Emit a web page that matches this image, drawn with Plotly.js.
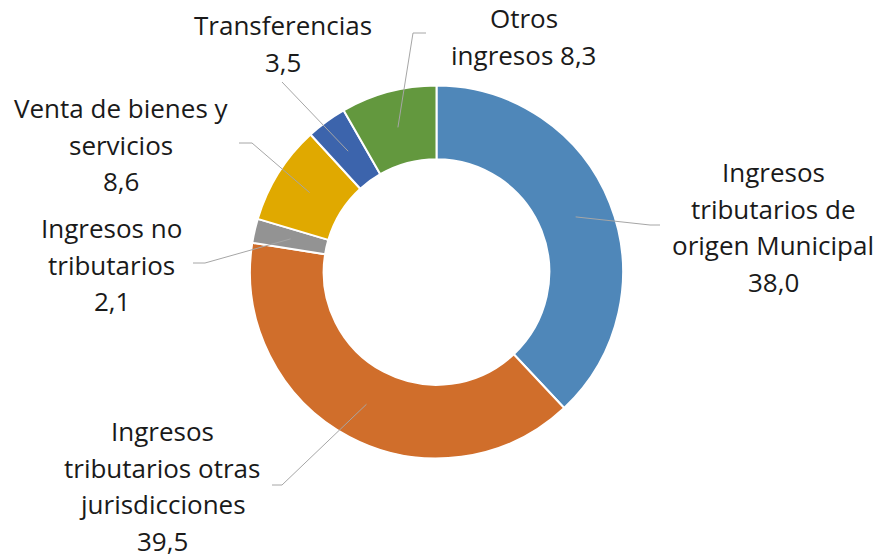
<!DOCTYPE html>
<html>
<head>
<meta charset="utf-8">
<script src="https://cdn.plot.ly/plotly-3.0.1.min.js"></script>
<style>html,body{margin:0;padding:0;background:#fff;}#chart{width:879px;height:558px;}</style>
</head>
<body>
<div id="chart"></div>
<script>
// ---- data ----
const categories = [
  "Ingresos tributarios de origen Municipal",
  "Ingresos tributarios otras jurisdicciones",
  "Ingresos no tributarios",
  "Venta de bienes y servicios",
  "Transferencias",
  "Otros ingresos"
];
const values = [38.0, 39.5, 2.1, 8.6, 3.5, 8.3];
const labelLines = [
  ["Ingresos", "tributarios de", "origen Municipal", "{v}"],
  ["Ingresos", "tributarios otras", "jurisdicciones", "{v}"],
  ["Ingresos no", "tributarios", "{v}"],
  ["Venta de bienes y", "servicios", "{v}"],
  ["Transferencias", "{v}"],
  ["Otros", "ingresos {v}"]
];
const colors = ["#4F87B9", "#D06E2B", "#939393", "#E0A900", "#3C64AC", "#63983E"];

// ---- layout (pixels) ----
const W = 879, H = 558;
const CX = 436.5, CY = 272, R = 186.5, HOLE = 0.605;
const FONT_SIZE = 26;
const labelCenter = [[773, 172], [162, 431], [112, 228], [121, 108], [283, 25], [524, 18]];
const lineGap = 36.6;
const leaderElbow = [[650, 225], [282, 485], [205, 263], [252, 143], [282, 82], [413, 33]];
const leaderEnd   = [[660, 225], [272, 485], [193, 263], [239, 143], null, [426, 33]];

const px = x => x / W, py = y => 1 - y / H;
const fmt = v => v.toFixed(1).replace('.', ',');

const total = values.reduce((a, b) => a + b, 0);
const annotations = [];
const shapes = [];
let cum = 0;
values.forEach((v, i) => {
  const mid = (cum + v / 2) / total * 2 * Math.PI;
  cum += v;
  const rm = R * (1 + HOLE) / 2;
  const ax = CX + rm * Math.sin(mid), ay = CY - rm * Math.cos(mid);
  let d = `M ${px(ax)} ${py(ay)} L ${px(leaderElbow[i][0])} ${py(leaderElbow[i][1])}`;
  if (leaderEnd[i]) d += ` L ${px(leaderEnd[i][0])} ${py(leaderEnd[i][1])}`;
  shapes.push({type: 'path', xref: 'paper', yref: 'paper', path: d,
    line: {color: '#A6A6A6', width: 1}});
  labelLines[i].forEach((t, k) => {
    const yc = labelCenter[i][1] + k * lineGap;
    annotations.push({
      xref: 'paper', yref: 'paper',
      x: px(labelCenter[i][0]), y: py(yc),
      xanchor: 'center', yanchor: 'middle', showarrow: false, borderpad: 0,
      text: t.replace('{v}', fmt(v)),
      font: {family: 'Open Sans, sans-serif', size: FONT_SIZE, color: '#1a1a1a'}
    });
  });
});

const trace = {
  type: 'pie',
  labels: categories,
  values: values,
  hole: HOLE,
  sort: false,
  direction: 'clockwise',
  rotation: 0,
  textinfo: 'none',
  hoverinfo: 'label+value',
  marker: {colors: colors, line: {color: '#ffffff', width: 2}},
  domain: {x: [px(CX - R), px(CX + R)], y: [py(CY + R), py(CY - R)]},
  showlegend: false
};

Plotly.newPlot('chart', [trace], {
  width: W, height: H,
  margin: {l: 0, r: 0, t: 0, b: 0},
  paper_bgcolor: '#ffffff',
  showlegend: false,
  annotations: annotations,
  shapes: shapes
}, {displayModeBar: false, staticPlot: true});
</script>
</body>
</html>
